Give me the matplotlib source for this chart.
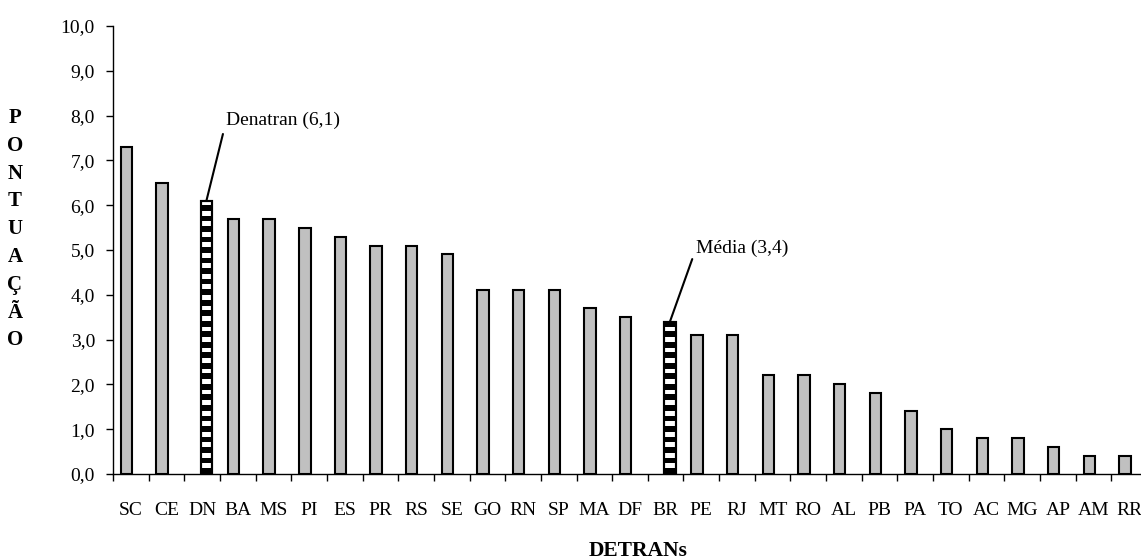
import numpy as np
import matplotlib
matplotlib.use('Agg')
import matplotlib.pyplot as plt

plt.rcParams['font.family'] = ['Liberation Serif', 'DejaVu Serif']

# data
siglas = ['SC', 'CE', 'DN', 'BA', 'MS', 'PI', 'ES', 'PR', 'RS', 'SE', 'GO', 'RN',
          'SP', 'MA', 'DF', 'BR', 'PE', 'RJ', 'MT', 'RO', 'AL', 'PB', 'PA', 'TO',
          'AC', 'MG', 'AP', 'AM', 'RR']
pontuacao = [7.3, 6.5, 6.1, 5.7, 5.7, 5.5, 5.3, 5.1, 5.1, 4.9, 4.1, 4.1,
             4.1, 3.7, 3.5, 3.4, 3.1, 3.1, 2.2, 2.2, 2.0, 1.8, 1.4, 1.0,
             0.8, 0.8, 0.6, 0.4, 0.4]
destaques = {'DN': 'Denatran (6,1)', 'BR': 'Média (3,4)'}
yticks = np.arange(0, 11, 1)

fig = plt.figure(figsize=(11.41, 5.6), dpi=100)
ax = fig.add_axes([113 / 1141, 86 / 560, 1034 / 1141, 448 / 560])

x = np.arange(len(siglas))
largura = 0.32
# serie comum a esquerda, serie destacada a direita (como no Excel)
desl = np.array([0.12 if s in destaques else -0.12 for s in siglas])
cores = ['white' if s in destaques else '#C0C0C0' for s in siglas]
ax.bar(x + desl, pontuacao, width=largura, color=cores, edgecolor='black', linewidth=1.5, zorder=2)

# listras horizontais nas barras destacadas
periodo, faixa = 0.235, 0.13
for i, s in enumerate(siglas):
    if s not in destaques:
        continue
    v = pontuacao[i]
    bases = np.arange(0, v, periodo)
    alturas = np.minimum(faixa, v - bases)
    ax.bar(np.full(len(bases), i + desl[i]), alturas, bottom=bases, width=largura,
           color='black', linewidth=0, zorder=3)
    ax.bar(i + desl[i], v, width=largura, fill=False, edgecolor='black', linewidth=1.5, zorder=4)

# anotacoes
pos_texto = {'DN': (0.68, 1.8), 'BR': (0.85, 1.63)}
for s, txt in destaques.items():
    i = siglas.index(s)
    dx, dy = pos_texto[s]
    ax.annotate(txt, xy=(i + desl[i], pontuacao[i]), xytext=(i + dx, pontuacao[i] + dy),
                ha='left', va='center', fontsize=14,
                arrowprops=dict(arrowstyle='-', color='black', lw=1.5,
                                relpos=(0, 0.5), shrinkA=2, shrinkB=0))

ax.set_xlim(-0.5, len(siglas) - 0.5)
ax.set_ylim(0, 10)
ax.set_yticks(yticks)
ax.set_yticklabels([f'{v:.1f}'.replace('.', ',') for v in yticks], fontsize=14)
ax.set_xticks(x)
ax.set_xticklabels(siglas, fontsize=14)
ax.set_xticks(np.arange(len(siglas) + 1) - 0.5, minor=True)
ax.tick_params(axis='x', which='major', length=0, pad=20)
ax.tick_params(axis='x', which='minor', length=5, width=1, direction='out')
ax.tick_params(axis='y', length=5, width=1, direction='out', pad=8)

for lado in ['top', 'right']:
    ax.spines[lado].set_visible(False)
for lado in ['left', 'bottom']:
    ax.spines[lado].set_linewidth(1)

# rotulo vertical letra por letra
for k, letra in enumerate('PONTUAÇÃO'):
    fig.text(15 / 1141, 1 - (118 + k * 27.8) / 560, letra, ha='center', va='center',
             fontsize=15, fontweight='bold')

fig.text(638 / 1141, 1 - 551 / 560, 'DETRANs', ha='center', va='center',
         fontsize=15.5, fontweight='bold')

fig.savefig('out.png', dpi=100)
